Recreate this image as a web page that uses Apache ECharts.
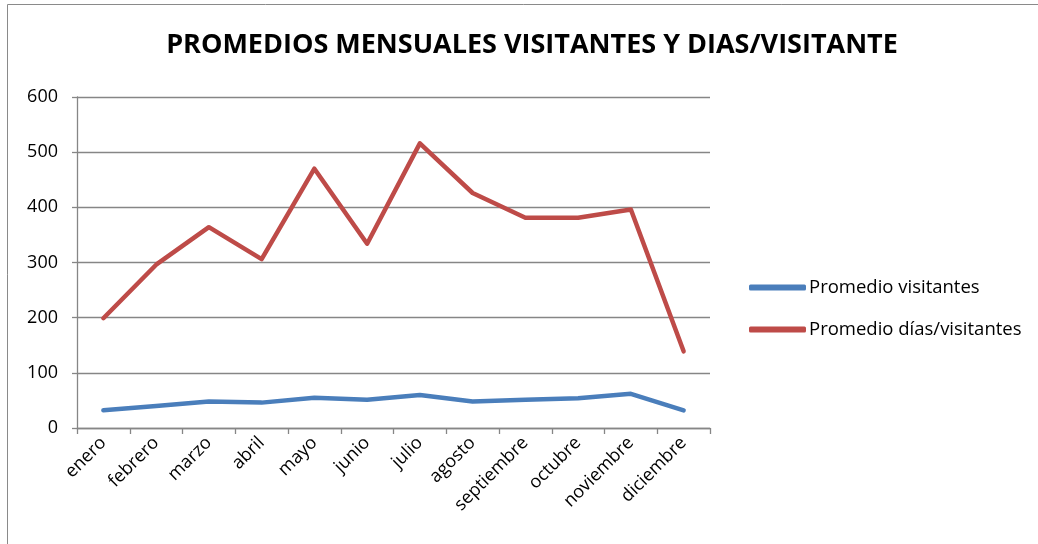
<!DOCTYPE html>
<html>
<head>
<meta charset="utf-8">
<script src="https://cdn.jsdelivr.net/npm/echarts@6/dist/echarts.min.js"></script>
<style>
  html, body { margin: 0; padding: 0; background: #fff; }
  #chart { width: 1038px; height: 544px; }
</style>
</head>
<body>
<div id="chart"></div>
<script>
var meses = ['enero', 'febrero', 'marzo', 'abril', 'mayo', 'junio', 'julio', 'agosto', 'septiembre', 'octubre', 'noviembre', 'diciembre'];
var promedioVisitantes = [32, 40, 48, 46, 55, 51, 60, 48, 51, 54, 62, 32];
var promedioDias = [199, 296, 364, 306, 470, 334, 516, 426, 381, 381, 396, 139];
var yTicks = [0, 100, 200, 300, 400, 500, 600];

var global = {};

InitChart();

function InitChart() {

    global.chart = echarts.init(document.getElementById('chart'));

    var font = '"Open Sans", "Liberation Sans", sans-serif';

    global.option = {
        backgroundColor: '#fff',
        animation: false,
        textStyle: { fontFamily: font },
        title: {
            text: 'PROMEDIOS MENSUALES VISITANTES Y DIAS/VISITANTE',
            left: 527,
            textAlign: 'center',
            top: 27,
            textStyle: {
                fontFamily: font,
                fontSize: 27,
                fontWeight: 'bold',
                color: '#000'
            }
        },
        legend: {
            orient: 'vertical',
            left: 744,
            top: 273,
            itemWidth: 57,
            itemHeight: 6,
            itemGap: 23,
            icon: 'roundRect',
            textStyle: { fontFamily: font, fontSize: 18.5, color: '#000', padding: [0, 0, 0, -2] },
            data: ['Promedio visitantes', 'Promedio días/visitantes']
        },
        grid: {
            left: 77,
            right: 328,
            top: 97,
            bottom: 116
        },
        graphic: [{
            type: 'rect',
            shape: { x: 7.5, y: 4.5, width: 1100, height: 1000 },
            style: { fill: null, stroke: '#8a8a8a', lineWidth: 1 },
            silent: true
        }],
        xAxis: {
            type: 'category',
            data: meses,
            boundaryGap: true,
            axisLine: { lineStyle: { color: '#868686', width: 1.3 } },
            axisTick: { show: true, length: 6, lineStyle: { color: '#868686', width: 1.3 } },
            axisLabel: {
                rotate: 45,
                interval: 0,
                margin: 12,
                fontFamily: font,
                fontSize: 18,
                color: '#000'
            }
        },
        yAxis: {
            type: 'value',
            min: yTicks[0],
            max: yTicks[yTicks.length - 1],
            interval: 100,
            axisLine: { show: true, lineStyle: { color: '#868686', width: 1.3 } },
            axisTick: { show: true, length: 5, lineStyle: { color: '#868686', width: 1.3 } },
            splitLine: { lineStyle: { color: '#868686', width: 1.3 } },
            axisLabel: {
                margin: 19,
                fontFamily: font,
                fontSize: 18,
                color: '#000'
            }
        },
        series: [{
            name: 'Promedio visitantes',
            type: 'line',
            data: promedioVisitantes,
            showSymbol: false,
            symbol: 'none',
            color: '#4a7ebb',
            lineStyle: { width: 4.5, color: '#4a7ebb', cap: 'round', join: 'round' }
        }, {
            name: 'Promedio días/visitantes',
            type: 'line',
            data: promedioDias,
            showSymbol: false,
            symbol: 'none',
            color: '#be4b48',
            lineStyle: { width: 4.5, color: '#be4b48', cap: 'round', join: 'round' }
        }]
    };

    global.chart.setOption(global.option);
}
</script>
</body>
</html>
